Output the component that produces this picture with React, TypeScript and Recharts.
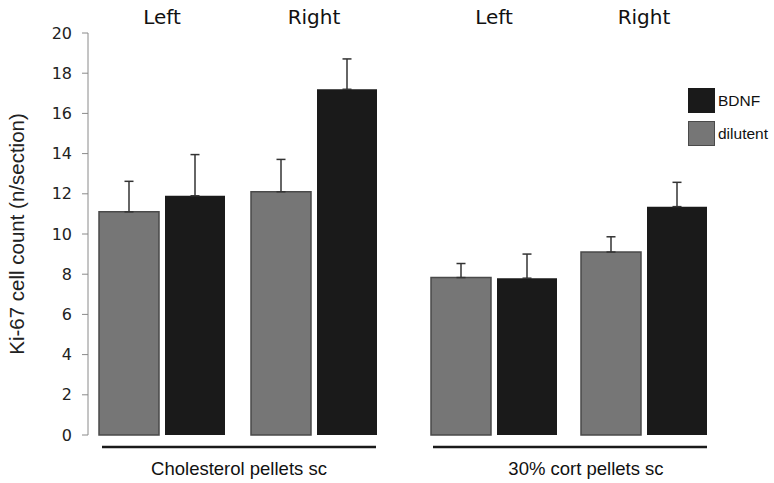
import React from 'react';
import { Bar, BarChart, ErrorBar, Legend, XAxis, YAxis } from 'recharts';

// values (mean and upper SEM whisker)
const sides = ['Left', 'Right'];
const cholDilutent = [11.1, 12.1];
const cholDilutentErr = [1.52, 1.61];
const cholBdnf = [11.9, 17.2];
const cholBdnfErr = [2.05, 1.51];
const cortDilutent = [7.83, 9.1];
const cortDilutentErr = [0.7, 0.76];
const cortBdnf = [7.8, 11.36];
const cortBdnfErr = [1.2, 1.21];
const yTicks = [0, 2, 4, 6, 8, 10, 12, 14, 16, 18, 20];
const legendOrder = ['BDNF', 'dilutent'];

const VERDANA = "'DejaVu Sans', Verdana, sans-serif";
const ARIAL = "'Liberation Sans', Arial, sans-serif";

const seriesStyle: Record<string, { fill: string; stroke: string }> = {
  BDNF: { fill: '#1a1a1a', stroke: '#1a1a1a' },
  dilutent: { fill: '#767676', stroke: '#4a4a4a' },
};

const buildRows = (dil: number[], dilErr: number[], bdnf: number[], bdnfErr: number[]) =>
  sides.map((side, i) => ({
    side,
    dilutent: dil[i],
    dilutentErr: [0, dilErr[i]],
    bdnf: bdnf[i],
    bdnfErr: [0, bdnfErr[i]],
  }));

const cholRows = buildRows(cholDilutent, cholDilutentErr, cholBdnf, cholBdnfErr);
const cortRows = buildRows(cortDilutent, cortDilutentErr, cortBdnf, cortBdnfErr);

const W = 774;
const H = 483;

const LegendBoxes = (props: any) => {
  const items = legendOrder
    .map(name => (props.payload || []).find((p: any) => p.value === name))
    .filter(Boolean);
  return (
    <div>
      {items.map((item: any) => {
        const st = seriesStyle[item.value];
        return (
          <div key={item.value} style={{ display: 'flex', alignItems: 'center', height: 25, marginBottom: 8 }}>
            <div
              style={{
                width: 27,
                height: 25,
                boxSizing: 'border-box',
                background: st.fill,
                border: `1.5px solid ${st.stroke}`,
              }}
            />
            <span style={{ marginLeft: 3, fontFamily: ARIAL, fontSize: 15.5, color: '#111' }}>{item.value}</span>
          </div>
        );
      })}
    </div>
  );
};

interface GroupProps {
  rows: any[];
  title: string;
  left: number;
  right: number;
  padding: { left: number; right: number };
  labelDx?: number;
  showLegend?: boolean;
}

const GroupChart: React.FC<GroupProps> = ({ rows, title, left, right, padding, labelDx = 0, showLegend }) => (
  <div style={{ position: 'absolute', left: 0, top: 0 }}>
    <BarChart
      width={W}
      height={H}
      data={rows}
      margin={{ top: 0, right: W - right, bottom: 0, left }}
      barGap={6}
    >
      <XAxis
        xAxisId="top"
        orientation="top"
        dataKey="side"
        height={33}
        padding={padding}
        axisLine={false}
        tickLine={false}
        tickSize={0}
        tickMargin={9}
        tick={{ fontFamily: VERDANA, fontSize: 20, fill: '#111' }}
      />
      <XAxis
        dataKey="side"
        height={36}
        padding={padding}
        tick={false}
        tickLine={false}
        axisLine={{ stroke: '#1a1a1a', strokeWidth: 2.5 }}
        label={{
          value: title,
          position: 'insideBottom',
          offset: 8,
          dx: labelDx,
          style: { fontFamily: ARIAL, fontSize: 18.5, fill: '#111' },
        }}
      />
      <YAxis hide domain={[-0.6, 20]} />
      {showLegend && (
        <Legend
          layout="vertical"
          align="center"
          verticalAlign="middle"
          content={LegendBoxes}
          wrapperStyle={{ top: 88, left: 688, width: 90 }}
        />
      )}
      <Bar
        dataKey="dilutent"
        name="dilutent"
        barSize={60}
        fill={seriesStyle.dilutent.fill}
        stroke={seriesStyle.dilutent.stroke}
        strokeWidth={1.5}
        isAnimationActive={false}
      >
        <ErrorBar dataKey="dilutentErr" direction="y" width={4.5} stroke="#333" strokeWidth={1.5} />
      </Bar>
      <Bar
        dataKey="bdnf"
        name="BDNF"
        barSize={60}
        fill={seriesStyle.BDNF.fill}
        isAnimationActive={false}
      >
        <ErrorBar dataKey="bdnfErr" direction="y" width={4.5} stroke="#333" strokeWidth={1.5} />
      </Bar>
    </BarChart>
  </div>
);

export default function App() {
  return (
    <div style={{ position: 'absolute', left: 0, top: 0, width: W, height: H, background: '#fff' }}>
      {/* shared y axis; the bar here is unpainted, it only feeds the axis */}
      <div style={{ position: 'absolute', left: 0, top: 0 }}>
        <BarChart width={W} height={H} data={cholRows} margin={{ top: 33, right: 0, bottom: 48, left: 0 }}>
          <XAxis dataKey="side" hide />
          <YAxis
            domain={[0, 20]}
            ticks={yTicks}
            interval={0}
            width={88}
            tickSize={6}
            tickMargin={10}
            axisLine={{ stroke: '#8a8a8a' }}
            tickLine={{ stroke: '#8a8a8a' }}
            tick={{ fontFamily: VERDANA, fontSize: 16, fill: '#222' }}
            label={{
              value: 'Ki-67 cell count (n/section)',
              angle: -90,
              position: 'insideLeft',
              offset: 17,
              style: { textAnchor: 'middle', fontFamily: ARIAL, fontSize: 20.5, fill: '#222' },
            }}
          />
          <Bar dataKey="dilutent" fill="none" stroke="none" legendType="none" isAnimationActive={false} />
        </BarChart>
      </div>
      <GroupChart
        rows={cholRows}
        title="Cholesterol pellets sc"
        left={102}
        right={376}
        padding={{ left: -16, right: -14 }}
      />
      <GroupChart
        rows={cortRows}
        title="30% cort pellets sc"
        left={433}
        right={707}
        padding={{ left: -14, right: -12 }}
        labelDx={16}
        showLegend
      />
    </div>
  );
}
